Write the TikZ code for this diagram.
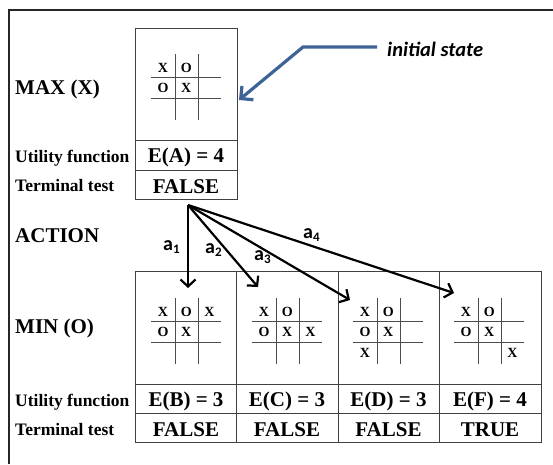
\documentclass[tikz,border=0pt]{standalone}
\usepackage{fontspec}
\setmainfont{Liberation Serif}
\newfontfamily\calibri{Carlito}
\usetikzlibrary{arrows.meta}
\definecolor{initblue}{HTML}{3E6396}
\newcommand{\tttboard}[3]{%
  \begin{scope}[shift={(#2)}]
    \draw[gridline] (-35,-10) -- (35,-10) (-35,11) -- (35,11)
                    (-11,-33) -- (-11,33) (12,-33) -- (12,33);
    \foreach \c/\r/\l in {#3} {
      \node[cellmark] (#1\c\r) at ({-23+(\c-1)*23.25}, {-15+(\r-1)*20.5}) {\l};
    }
  \end{scope}}
\newcommand{\actsub}[1]{{\fontsize{13}{14}\selectfont\raisebox{-3pt}{#1}}}
\begin{document}
\begin{tikzpicture}[x=1pt,y=-1pt,
  frameline/.style={line width=1.5pt,draw=black!85},
  cellline/.style={line width=0.9pt,draw=black!75},
  gridline/.style={line width=1pt,draw=black!70},
  rowlabel/.style={anchor=base west,inner sep=0pt,font=\bfseries\fontsize{17.5}{20}\selectfont},
  biglabel/.style={anchor=base west,inner sep=0pt,font=\bfseries\fontsize{21}{24}\selectfont},
  celltext/.style={anchor=base,inner sep=0pt,font=\bfseries\fontsize{21}{24}\selectfont},
  cellmark/.style={anchor=base,inner sep=0pt,font=\bfseries\fontsize{14}{15}\selectfont},
  actarrow/.style={line width=2.2pt,-{Straight Barb[length=7pt,width=15pt]}},
  actlabel/.style={anchor=base west,inner sep=0pt,font=\calibri\bfseries\fontsize{20}{22}\selectfont},
  initarrow/.style={line width=3.2pt,draw=initblue,-{Straight Barb[length=9pt,width=18pt]}},
]
\useasboundingbox (0,0) rectangle (553,464);
% outer frame
\draw[frameline] (9,464) -- (9,10) -- (553,10);

% top table
\draw[cellline] (135,28) rectangle (237,199);
\draw[cellline] (135,140) -- (237,140) (135,170) -- (237,170);
\tttboard{A}{186,87}{1/1/X,2/1/O,1/2/O,2/2/X}

% bottom table
\draw[cellline] (135,271) rectangle (541,442);
\draw[cellline] (135,384) -- (541,384) (135,413) -- (541,413)
                (236,271) -- (236,442) (338,271) -- (338,442) (439,271) -- (439,442);
\tttboard{B}{186,331}{1/1/X,2/1/O,3/1/X,1/2/O,2/2/X}
\tttboard{C}{287,331}{1/1/X,2/1/O,1/2/O,2/2/X,3/2/X}
\tttboard{D}{388,331}{1/1/X,2/1/O,1/2/O,2/2/X,1/3/X}
\tttboard{F}{489,331}{1/1/X,2/1/O,1/2/O,2/2/X,3/3/X}

% row labels
\node[biglabel] (maxlbl) at (15,94) {MAX (X)};
\node[rowlabel] (util1) at (15,162) {Utility function};
\node[rowlabel] (term1) at (15,191) {Terminal test};
\node[biglabel] (action) at (15,242) {ACTION};
\node[biglabel] (minlbl) at (15,333) {MIN (O)};
\node[rowlabel] (util2) at (15,406) {Utility function};
\node[rowlabel] (term2) at (15,435) {Terminal test};

% cell values
\node[celltext] (EA) at (186,162) {E(A) = 4};
\node[celltext] (TA) at (186,193) {FALSE};
\node[celltext] (EB) at (186,406) {E(B) = 3};
\node[celltext] (EC) at (287,406) {E(C) = 3};
\node[celltext] (ED) at (388.5,406) {E(D) = 3};
\node[celltext] (EF) at (490,406) {E(F) = 4};
\node[celltext] (TB) at (186,436) {FALSE};
\node[celltext] (TC) at (287,436) {FALSE};
\node[celltext] (TD) at (388.5,436) {FALSE};
\node[celltext] (TF) at (490,436) {TRUE};

% actions
\coordinate (src) at (188,205);
\coordinate (tipB) at (188,288);
\coordinate (tipC) at (258,287);
\coordinate (tipD) at (350,300);
\coordinate (tipF) at (454,293);
\draw[actarrow] (src) -- (tipB);
\draw[actarrow] (src) -- (tipC);
\draw[actarrow] (src) -- (tipD);
\draw[actarrow] (src) -- (tipF);
\node[actlabel] (a1) at (163,250) {a\actsub{1}};
\node[actlabel] (a2) at (205,253) {a\actsub{2}};
\node[actlabel] (a3) at (254,260) {a\actsub{3}};
\node[actlabel] (a4) at (303,238) {a\actsub{4}};

% initial state
\node[anchor=base west,inner sep=0pt,font=\calibri\bfseries\itshape\fontsize{20.5}{22}\selectfont] (init) at (387,56) {initial state};
\coordinate (isA) at (377,47);
\coordinate (isB) at (303,47);
\coordinate (isTip) at (239,100);
\draw[initarrow] (isA) -- (isB) -- (isTip);
\end{tikzpicture}
\end{document}
